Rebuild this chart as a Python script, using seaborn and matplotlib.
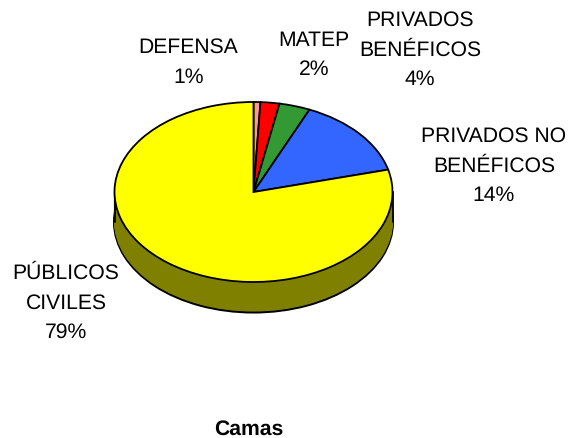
import matplotlib
matplotlib.use('Agg')
import matplotlib.pyplot as plt
import seaborn as sns

# Chart values
categories = ['DEFENSA', 'MATEP', 'PRIVADOS\nBENÉFICOS', 'PRIVADOS NO\nBENÉFICOS', 'PÚBLICOS\nCIVILES']
values = [0.8, 2.2, 3.6, 14.4, 79]
slice_colors = ['#FF9999', '#FF0000', '#339933', '#3366FF', '#FFFF00']
side_color = '#808000'

sns.set_theme(style='white')
plt.rcParams['font.family'] = ['Liberation Sans', 'DejaVu Sans']
plt.rcParams['text.hinting'] = 'no_hinting'

W, H = 571, 438
fig = plt.figure(figsize=(W / 100, H / 100), dpi=100)
# axes in pixels, 1 data unit = one pie radius
cx, cy, rx, ry, depth = 253.5, 192, 139, 90, 30
ax = fig.add_axes([0, 0, 1, 1])

d = depth / ry
palette = sns.color_palette(slice_colors)

# ── Side of the pie: stacked copies going down ──────────
n_layers = 30
for i in range(n_layers, 0, -1):
    off = d * i / n_layers
    edge = 'black' if i == n_layers else side_color
    lw = 2.2 if i == n_layers else 0.8
    ax.pie([sum(values)], colors=[side_color], startangle=90, center=(0, -off),
           wedgeprops={'edgecolor': edge, 'linewidth': lw}, radius=1)

# outline of the side
ax.plot([-1, -1], [0, -d], color='black', lw=1.3, zorder=3)
ax.plot([1, 1], [0, -d], color='black', lw=1.3, zorder=3)

# ── Top of the pie ──────────────────────────────────────
ax.pie(values, colors=palette, startangle=90, counterclock=False, radius=1,
       wedgeprops={'edgecolor': 'black', 'linewidth': 1.3, 'zorder': 4})

ax.set_aspect('auto')
ax.set_xlim(-cx / rx, (W - cx) / rx)
ax.set_ylim(-(H - cy) / ry, cy / ry)
ax.axis('off')

# ── Labels ──────────────────────────────────────────────
label_pos = [(188.5, 62.5), (314, 55), (420, 50), (494, 166), (66, 303)]
for name, val, (px, py) in zip(categories, values, label_pos):
    fig.text(px / W, 1 - py / H, f'{name}\n{val:.0f}%', ha='center', va='center',
             fontsize=15.2, color='black', linespacing=1.66)

fig.text(249 / W, 1 - 429 / H, 'Camas', ha='center', va='center',
         fontsize=15.2, fontweight='bold', color='black')

fig.savefig('out.png', dpi=100, facecolor='white')
